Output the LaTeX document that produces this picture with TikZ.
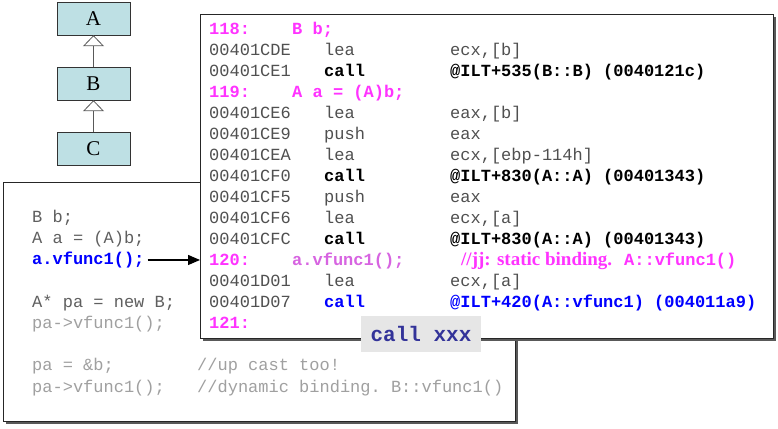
\documentclass[tikz,border=0pt]{standalone}
\usepackage{fontspec}
\setmainfont{Liberation Serif}
\setmonofont{Liberation Mono}
\usetikzlibrary{arrows.meta,shadows}
\definecolor{umlfill}{RGB}{190,224,228}
\definecolor{mag}{RGB}{255,51,255}
\definecolor{magsoft}{RGB}{215,100,225}
\definecolor{codegray}{RGB}{95,95,95}
\definecolor{lightcode}{RGB}{160,160,160}
\definecolor{addrgray}{RGB}{80,80,80}
\definecolor{callblue}{RGB}{0,0,255}
\definecolor{xxxblue}{RGB}{51,51,153}
\definecolor{xxxbg}{RGB}{230,230,230}
\begin{document}
\begin{tikzpicture}[x=1pt,y=-1pt,
  umlbox/.style={draw=black!80, fill=umlfill, minimum width=73pt, minimum height=33pt, inner sep=0pt, font=\fontsize{21}{21}\selectfont},
  inherit/.style={draw=black!65, line width=0.8pt, -{Triangle[width=21pt,length=11pt,fill=white,line width=0.8pt]}},
  panel/.style={draw=black!85, fill=white, line width=0.8pt, anchor=north west, inner sep=0pt,
     copy shadow={shadow xshift=2.5pt, shadow yshift=-2.5pt, fill=black!65, draw=none}},
  code/.style={anchor=base west, inner sep=0pt, font=\fontsize{17}{17}\ttfamily},
  bcode/.style={code, font=\fontsize{17}{17}\ttfamily\bfseries},
  callarrow/.style={line width=1.3pt, -{Triangle[width=10pt,length=12pt]}},
  xxxbox/.style={fill=xxxbg, minimum width=120pt, minimum height=36pt, inner sep=0pt, text=xxxblue, font=\fontsize{21}{21}\ttfamily\bfseries}
]
\useasboundingbox (0,0) rectangle (778,428);

% UML hierarchy
\node[umlbox] (A) at (93.5,18.5) {A};
\node[umlbox] (B) at (93.5,83.5) {B};
\node[umlbox] (C) at (93.5,149) {C};
\draw[inherit] (B.north) -- (A.south);
\draw[inherit] (C.north) -- (B.south);

% source panel
\node[panel, minimum width=512pt, minimum height=239pt] (src) at (3,182) {};
\node[code, text=codegray] (s1) at (32,222) {B b;};
\node[code, text=codegray] (s2) at (32,243.25) {A a = (A)b;};
\node[bcode, text=callblue] (s3) at (32,264.5) {a.vfunc1();};
\node[code, text=codegray] (s4) at (32,307) {A* pa = new B;};
\node[code, text=lightcode] (s5) at (32,328.25) {pa->vfunc1();};
\node[code, text=lightcode] (s6) at (32,370.75) {pa = \&b;};
\node[code, text=lightcode] (s6c) at (197,370.75) {//up cast too!};
\node[code, text=lightcode] (s7) at (32,392) {pa->vfunc1();};
\node[code, text=lightcode] (s7c) at (197,392) {//dynamic binding. B::vfunc1()};

% assembly panel
\node[panel, minimum width=573pt, minimum height=324pt] (asm) at (200,14) {};
% line 0
\node[bcode, text=mag] (l118) at (209,35) {118:};
\node[bcode, text=mag] (l118s) at (292,35) {B b;};
% line 1
\node[code, text=addrgray] (a1) at (209,55.93) {00401CDE};
\node[code, text=addrgray] (m1) at (324,55.93) {lea};
\node[code, text=addrgray] (o1) at (450,55.93) {ecx,[b]};
% line 2
\node[code, text=addrgray] (a2) at (209,76.86) {00401CE1};
\node[bcode] (m2) at (324,76.86) {call};
\node[bcode] (o2) at (450,76.86) {@ILT+535(B::B) (0040121c)};
% line 3
\node[bcode, text=mag] (l119) at (209,97.79) {119:};
\node[bcode, text=mag] (l119s) at (292,97.79) {A a = (A)b;};
% line 4
\node[code, text=addrgray] (a4) at (209,118.72) {00401CE6};
\node[code, text=addrgray] (m4) at (324,118.72) {lea};
\node[code, text=addrgray] (o4) at (450,118.72) {eax,[b]};
% line 5
\node[code, text=addrgray] (a5) at (209,139.65) {00401CE9};
\node[code, text=addrgray] (m5) at (324,139.65) {push};
\node[code, text=addrgray] (o5) at (450,139.65) {eax};
% line 6
\node[code, text=addrgray] (a6) at (209,160.58) {00401CEA};
\node[code, text=addrgray] (m6) at (324,160.58) {lea};
\node[code, text=addrgray] (o6) at (450,160.58) {ecx,[ebp-114h]};
% line 7
\node[code, text=addrgray] (a7) at (209,181.51) {00401CF0};
\node[bcode] (m7) at (324,181.51) {call};
\node[bcode] (o7) at (450,181.51) {@ILT+830(A::A) (00401343)};
% line 8
\node[code, text=addrgray] (a8) at (209,202.44) {00401CF5};
\node[code, text=addrgray] (m8) at (324,202.44) {push};
\node[code, text=addrgray] (o8) at (450,202.44) {eax};
% line 9
\node[code, text=addrgray] (a9) at (209,223.37) {00401CF6};
\node[code, text=addrgray] (m9) at (324,223.37) {lea};
\node[code, text=addrgray] (o9) at (450,223.37) {ecx,[a]};
% line 10
\node[code, text=addrgray] (a10) at (209,244.3) {00401CFC};
\node[bcode] (m10) at (324,244.3) {call};
\node[bcode] (o10) at (450,244.3) {@ILT+830(A::A) (00401343)};
% line 11
\node[bcode, text=mag] (l120) at (209,265.23) {120:};
\node[bcode, text=magsoft] (l120s) at (292,265.23) {a.vfunc1();};
\node[anchor=base west, inner sep=0pt, text=mag, font=\fontsize{19}{19}\bfseries] (l120c) at (461,265.23) {//jj: static binding.\hspace{12pt}{\fontsize{17}{17}\ttfamily A::vfunc1()}};
% line 12
\node[code, text=addrgray] (a12) at (209,286.16) {00401D01};
\node[code, text=addrgray] (m12) at (324,286.16) {lea};
\node[code, text=addrgray] (o12) at (450,286.16) {ecx,[a]};
% line 13
\node[code, text=addrgray] (a13) at (209,307.09) {00401D07};
\node[bcode, text=callblue] (m13) at (324,307.09) {call};
\node[bcode, text=callblue] (o13) at (450,307.09) {@ILT+420(A::vfunc1) (004011a9)};
% line 14
\node[bcode, text=mag] (l121) at (209,328) {121:};

% call xxx label
\node[xxxbox] (xxx) at (421,334) {call xxx};

% arrow
\draw[callarrow] ([xshift=3pt]s3.east) -- (s3.east -| asm.west);
\end{tikzpicture}
\end{document}
